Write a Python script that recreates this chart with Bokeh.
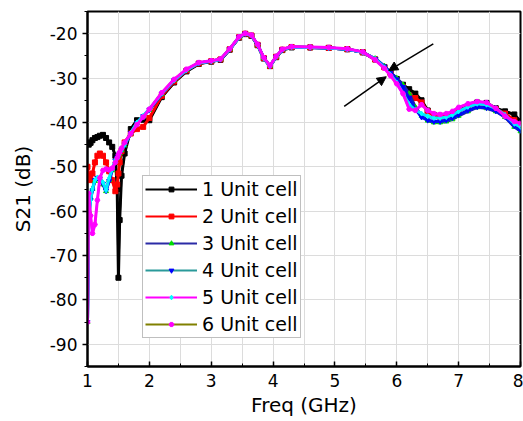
from bokeh.plotting import figure
from bokeh.models import (Legend, LegendItem, SingleIntervalTicker, Arrow, NormalHead,
                          ColumnDataSource, Range1d, PrintfTickFormatter)
from bokeh.embed import file_html
from bokeh.resources import INLINE

# ---------------- data ----------------
freq = [1.00, 1.02, 1.05, 1.08, 1.12, 1.16, 1.20, 1.25, 1.30, 1.35,
        1.40, 1.45, 1.48, 1.50, 1.52, 1.55, 1.60, 1.70, 1.80, 1.90,
        2.00, 2.20, 2.40, 2.60, 2.80, 3.00, 3.15, 3.30, 3.45, 3.55,
        3.65, 3.75, 3.85, 3.95, 4.05, 4.15, 4.30, 4.60, 4.90, 5.20,
        5.45, 5.65, 5.80, 5.90, 6.00, 6.10, 6.20, 6.30, 6.40, 6.50,
        6.60, 6.70, 6.80, 6.90, 7.00, 7.15, 7.30, 7.45, 7.60, 7.75,
        7.90, 8.00]

s21_1 = [-44.5, -45.0, -44.6, -44.0, -43.5, -43.3, -43.0, -42.8, -43.5, -44.5,
         -45.5, -47.5, -55.0, -75.0, -62.0, -52.0, -47.0, -41.5, -39.5, -39.4,
         -39.5, -34.3, -31.0, -28.5, -26.8, -26.3, -25.9, -23.6, -20.9, -20.1,
         -20.5, -22.6, -25.6, -27.3, -25.3, -23.7, -23.1, -23.1, -23.2, -23.5,
         -24.2, -25.8, -27.5, -28.8, -30.2, -31.5, -32.5, -33.5, -35.0, -37.3,
         -38.3, -38.5, -38.5, -38.0, -37.3, -36.3, -35.5, -35.6, -36.8, -37.5,
         -38.2, -39.8]
s21_2 = [-50.0, -52.0, -53.0, -51.5, -49.0, -47.5, -47.0, -47.5, -49.0, -51.0,
         -53.0, -55.5, -54.0, -51.5, -49.0, -46.5, -44.5, -42.5, -41.5, -41.0,
         -39.0, -34.0, -30.8, -28.3, -26.7, -26.2, -25.8, -23.5, -20.8, -20.0,
         -20.4, -22.5, -25.5, -27.3, -25.2, -23.6, -23.0, -23.1, -23.2, -23.5,
         -24.2, -25.8, -27.6, -29.0, -30.6, -32.0, -34.0, -34.5, -35.5, -37.5,
         -38.5, -38.8, -38.8, -38.3, -37.5, -36.5, -35.8, -36.0, -37.0, -38.0,
         -39.5, -40.5]
s21_3 = [-85.0, -60.0, -57.0, -55.0, -53.2, -52.6, -52.8, -54.0, -55.5, -53.0,
         -50.8, -48.8, -48.0, -47.5, -47.0, -46.3, -45.2, -42.5, -40.2, -38.7,
         -37.2, -33.6, -30.5, -28.2, -26.6, -26.2, -25.8, -23.5, -20.8, -20.0,
         -20.4, -22.5, -25.5, -27.3, -25.2, -23.6, -23.0, -23.1, -23.2, -23.5,
         -24.2, -25.6, -27.3, -28.8, -30.0, -31.5, -33.5, -36.5, -38.5, -39.6,
         -40.0, -40.0, -39.8, -39.3, -38.5, -37.5, -36.6, -36.8, -37.5, -38.8,
         -41.0, -42.0]
s21_4 = [-85.0, -61.0, -57.5, -55.3, -53.0, -52.5, -52.6, -53.8, -55.4, -53.2,
         -50.6, -48.6, -47.9, -47.4, -46.9, -46.2, -45.1, -42.4, -40.1, -38.6,
         -37.1, -33.5, -30.5, -28.2, -26.6, -26.2, -25.8, -23.5, -20.8, -20.0,
         -20.4, -22.5, -25.5, -27.3, -25.2, -23.6, -23.0, -23.1, -23.2, -23.5,
         -24.2, -25.7, -27.4, -28.9, -30.3, -32.0, -34.5, -37.0, -38.8, -39.5,
         -39.8, -39.8, -39.5, -39.0, -38.3, -37.3, -36.5, -36.7, -37.4, -38.7,
         -40.8, -41.8]
s21_5 = [-85.0, -62.0, -57.5, -55.0, -53.0, -52.4, -52.5, -53.5, -55.3, -52.5,
         -50.5, -48.5, -47.8, -47.3, -46.8, -46.2, -45.0, -42.3, -40.0, -38.5,
         -37.0, -33.5, -30.5, -28.2, -26.6, -26.2, -25.8, -23.5, -20.8, -20.0,
         -20.4, -22.5, -25.5, -27.3, -25.2, -23.6, -23.0, -23.1, -23.2, -23.5,
         -24.2, -25.7, -27.6, -29.3, -31.0, -33.5, -36.0, -37.2, -38.0, -38.6,
         -39.0, -39.0, -38.8, -38.3, -37.5, -36.5, -35.8, -36.0, -36.8, -38.3,
         -40.3, -41.0]
s21_6 = [-85.0, -56.0, -61.0, -65.0, -63.0, -57.5, -52.5, -50.8, -50.5, -50.7,
         -50.3, -49.0, -48.0, -47.3, -46.7, -45.8, -44.5, -42.5, -40.5, -38.8,
         -37.0, -33.3, -30.3, -28.0, -26.5, -26.1, -25.7, -23.4, -20.7, -19.9,
         -20.3, -22.4, -25.4, -27.2, -25.1, -23.5, -22.9, -23.0, -23.1, -23.4,
         -24.1, -25.9, -27.8, -29.5, -31.3, -33.5, -37.0, -37.3, -36.0, -37.3,
         -38.0, -38.2, -38.0, -37.5, -36.6, -35.8, -35.3, -35.5, -36.8, -38.6,
         -39.8, -40.2]

labels = ["1 Unit cell", "2 Unit cell", "3 Unit cell",
          "4 Unit cell", "5 Unit cell", "6 Unit cell"]

# arrows pointing at the common crossing point
arrow_x_start = [6.59, 5.15]
arrow_y_start = [-22.3, -36.4]
arrow_x_end = [5.87, 5.83]
arrow_y_end = [-28.3, -29.7]

# ---------------- styles ----------------
series = [s21_1, s21_2, s21_3, s21_4, s21_5, s21_6]
plot_line_colors = ["#000000", "#FF0000", "#2020B0", "#0010F0", "#00E8FF", "#FF00FF"]
legend_line_colors = ["#000000", "#FF0000", "#2B2BA6", "#2A9A9A", "#FF00FF", "#808000"]
marker_colors = ["#000000", "#FF0000", "#00E000", "#0000FF", "#00FFFF", "#FF00FF"]
markers = ["square", "square", "triangle", "inverted_triangle", "diamond", "hex"]

FONT = "DejaVu Sans"

p = figure(width=523, height=421, x_range=Range1d(1, 8), y_range=Range1d(-95, -15),
           output_backend="svg", toolbar_location=None,
           min_border_left=87, min_border_right=3, min_border_top=11, min_border_bottom=55)

p.background_fill_color = "white"
p.border_fill_color = "white"
p.outline_line_color = "black"
p.outline_line_width = 2

# axes
p.xaxis.ticker = SingleIntervalTicker(interval=1, num_minor_ticks=2)
p.yaxis.ticker = SingleIntervalTicker(interval=10, num_minor_ticks=2)
p.xaxis.formatter = PrintfTickFormatter(format="%d")
p.yaxis.formatter = PrintfTickFormatter(format="%d")
p.xaxis.axis_label = "Freq (GHz)"
p.yaxis.axis_label = "S21 (dB)"
for ax in (p.xaxis[0], p.yaxis[0]):
    ax.axis_line_color = "black"
    ax.axis_line_width = 2
    ax.major_tick_line_color = "black"
    ax.minor_tick_line_color = "black"
    ax.major_tick_line_width = 1.5
    ax.minor_tick_line_width = 1
    ax.major_label_text_font = FONT
    ax.major_label_text_font_size = "17px"
    ax.major_label_text_color = "black"
    ax.axis_label_text_font = FONT
    ax.axis_label_text_font_size = "20px"
    ax.axis_label_text_font_style = "normal"
    ax.axis_label_text_color = "black"

p.xaxis.major_tick_in = 5
p.xaxis.major_tick_out = 0
p.xaxis.minor_tick_in = 3
p.xaxis.minor_tick_out = 0
p.xaxis.major_label_standoff = 7
p.xaxis.axis_label_standoff = 3

p.yaxis.major_tick_in = 0
p.yaxis.major_tick_out = 5
p.yaxis.minor_tick_in = 0
p.yaxis.minor_tick_out = 3
p.yaxis.major_label_standoff = 5
p.yaxis.axis_label_standoff = 12

# grid
p.xgrid.grid_line_color = "#DCDCDC"
p.xgrid.minor_grid_line_color = "#DCDCDC"
p.ygrid.grid_line_color = "#DCDCDC"

# data curves: thin line in legend colour, thick visible band, markers on top
items = []
for i, ys in enumerate(series):
    src = ColumnDataSource(dict(x=freq, y=ys))
    lr = p.line("x", "y", source=src, line_color=legend_line_colors[i], line_width=2)
    p.line("x", "y", source=src, line_color=plot_line_colors[i], line_width=3)
    sr = p.scatter("x", "y", source=src, marker=markers[i], size=5,
                   fill_color=marker_colors[i], line_color=marker_colors[i])
    items.append(LegendItem(label=labels[i], renderers=[lr, sr]))

legend = Legend(items=items, location=(55, 28))
legend.label_text_font = FONT
legend.label_text_font_size = "19px"
legend.label_text_color = "black"
legend.glyph_width = 52
legend.glyph_height = 12
legend.label_height = 20
legend.label_standoff = 5
legend.spacing = 5
legend.padding = 2
legend.margin = 0
legend.border_line_color = "#808080"
legend.border_line_width = 1
legend.background_fill_color = "white"
legend.background_fill_alpha = 1.0
p.add_layout(legend)

# arrows
for xs, ys, xe, ye in zip(arrow_x_start, arrow_y_start, arrow_x_end, arrow_y_end):
    p.add_layout(Arrow(end=NormalHead(size=9, fill_color="black", line_color="black"),
                       x_start=xs, y_start=ys, x_end=xe, y_end=ye,
                       line_color="black", line_width=1.5))

open("out.html", "w").write(file_html(p, INLINE))
